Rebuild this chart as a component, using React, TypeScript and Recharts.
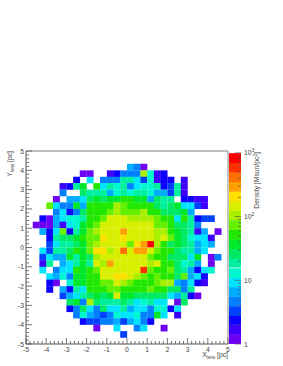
import { ReferenceLine, Scatter, ScatterChart, XAxis, YAxis } from "recharts";

const _ = null;

// bin centres in pc, 30 x 30 over [-5, 5]
const xBins = [-4.83, -4.5, -4.17, -3.83, -3.5, -3.17, -2.83, -2.5, -2.17, -1.83, -1.5, -1.17, -0.83, -0.5, -0.17, 0.17, 0.5, 0.83, 1.17, 1.5, 1.83, 2.17, 2.5, 2.83, 3.17, 3.5, 3.83, 4.17, 4.5, 4.83];
const yBins = [4.83, 4.5, 4.17, 3.83, 3.5, 3.17, 2.83, 2.5, 2.17, 1.83, 1.5, 1.17, 0.83, 0.5, 0.17, -0.17, -0.5, -0.83, -1.17, -1.5, -1.83, -2.17, -2.5, -2.83, -3.17, -3.5, -3.83, -4.17, -4.5, -4.83];

// density at the middle of each of the 20 colour contours
const contourDensity = [1.2, 1.7, 2.4, 3.3, 4.7, 6.6, 9.3, 13, 19, 26, 37, 52, 74, 105, 148, 209, 295, 417, 589, 832];
const contourColors = [
  "#6c00f4", "#3c00fa", "#0c00ff", "#0040ff", "#0080ff", "#00acff", "#00e4ff", "#00f8d0", "#00f0a0", "#00ea64",
  "#00e82c", "#20e800", "#64f000", "#a8f000", "#d8f000", "#ffe000", "#ffa000", "#ff7000", "#ff3000", "#ff0000",
];

// contour index per bin, top row first
const densityRows = [
  [_,_,_,_,_,_,_,_,_,_,_,_,_,_,_,_,_,_,_,_,_,_,_,_,_,_,_,_,_,_],
  [_,_,_,_,_,_,_,_,_,_,_,_,_,_,_,_,_,_,_,_,_,_,_,_,_,_,_,_,_,_],
  [_,_,_,_,_,_,_,_,_,_,_,_,_,_,_,5,4,0,_,_,_,_,_,_,_,_,_,_,_,_],
  [_,_,_,_,_,_,_,_,0,0,_,_,1,2,4,4,4,13,7,1,2,_,_,_,_,_,_,_,_,_],
  [_,_,_,_,_,_,_,2,_,6,_,4,4,4,8,8,6,3,7,1,2,2,_,1,_,_,_,_,_,_],
  [_,_,_,_,_,1,2,8,10,_,11,6,8,7,8,4,6,7,7,8,2,3,8,1,_,_,_,_,_,_],
  [_,_,_,_,_,4,_,_,9,8,8,8,5,7,8,7,8,8,7,5,5,3,8,1,_,_,_,_,_,_],
  [_,_,_,_,0,_,5,5,6,9,10,9,10,10,11,11,10,10,5,9,8,8,_,2,2,1,1,_,_,_],
  [_,_,_,12,6,4,4,10,5,11,11,11,11,13,12,11,11,11,11,9,8,9,10,6,6,3,1,_,_,_],
  [_,_,_,_,4,6,2,4,9,11,11,11,12,13,12,12,12,13,11,11,9,9,9,10,5,_,_,_,_,_],
  [_,_,2,0,5,6,7,7,8,11,11,12,14,14,14,13,13,13,13,12,11,11,6,11,8,2,3,3,_,_],
  [_,0,0,0,5,1,6,7,10,11,12,14,14,14,14,14,14,14,14,12,12,11,9,9,8,4,_,_,_,_],
  [_,_,5,2,6,12,2,8,10,12,13,14,14,14,16,14,14,14,14,13,13,11,10,9,8,1,5,_,0,_],
  [_,_,_,2,8,9,9,10,11,12,12,15,14,14,15,14,14,14,14,13,14,12,10,9,7,6,6,1,_,_],
  [_,_,_,3,6,8,8,9,10,12,13,14,14,14,14,12,15,16,19,13,11,9,10,9,8,5,6,5,_,_],
  [_,_,6,3,8,8,9,11,10,12,15,15,13,14,17,14,16,16,14,12,11,11,9,8,8,5,6,_,_,_],
  [_,_,3,6,5,5,10,8,10,9,13,14,14,14,14,14,14,14,12,11,11,9,9,9,6,10,_,0,4,_],
  [_,_,1,8,_,5,6,8,10,8,14,13,16,14,14,14,14,14,13,14,11,11,9,7,8,5,_,0,_,_],
  [_,_,6,_,4,6,6,11,10,11,12,14,14,14,14,14,14,18,12,11,11,12,9,8,5,2,6,7,_,_],
  [_,_,_,6,5,7,4,10,10,11,11,14,14,15,15,14,13,12,11,12,11,11,9,12,5,6,2,_,_,_],
  [_,_,_,2,0,_,7,10,10,11,11,12,12,14,13,12,11,11,11,12,13,13,5,4,6,2,1,_,_,_],
  [_,_,_,2,_,5,2,8,6,11,11,11,12,12,11,11,11,11,12,11,11,9,9,4,8,_,_,_,_,_],
  [_,_,_,_,_,3,5,6,8,9,10,9,10,14,10,10,9,9,9,9,9,6,5,8,2,0,_,_,_,_],
  [_,_,_,_,_,_,9,10,4,13,9,8,8,8,9,8,6,7,8,6,6,_,0,9,_,_,_,_,_,_],
  [_,_,_,_,_,_,2,4,9,6,4,9,6,6,8,5,6,6,4,7,7,2,6,_,_,_,_,_,_,_],
  [_,_,_,_,_,_,_,4,7,5,4,3,4,7,6,6,7,4,4,10,6,_,1,_,_,_,_,_,_,_],
  [_,_,_,_,_,_,_,_,2,3,3,4,4,5,3,5,6,4,2,_,_,_,_,_,_,_,_,_,_,_],
  [_,_,_,_,_,_,_,_,_,_,0,_,_,6,_,_,4,6,_,_,0,_,_,_,_,_,_,_,_,_],
  [_,_,_,_,_,_,_,_,_,_,_,_,_,_,3,_,_,_,_,_,_,_,_,_,_,_,_,_,_,_],
  [_,_,_,_,_,_,_,_,_,_,_,_,_,_,_,_,_,_,_,_,_,_,_,_,_,_,_,_,_,_],
];

const axisMajor = [-5, -4, -3, -2, -1, 0, 1, 2, 3, 4, 5];
const axisMinor = [
  -4.8, -4.6, -4.4, -4.2, -3.8, -3.6, -3.4, -3.2, -2.8, -2.6, -2.4, -2.2, -1.8, -1.6, -1.4, -1.2, -0.8, -0.6, -0.4, -0.2,
  0.2, 0.4, 0.6, 0.8, 1.2, 1.4, 1.6, 1.8, 2.2, 2.4, 2.6, 2.8, 3.2, 3.4, 3.6, 3.8, 4.2, 4.4, 4.6, 4.8,
];
const zDecades = [1, 10, 100, 1000];
const zMinor = [2, 3, 4, 5, 6, 7, 8, 9, 20, 30, 40, 50, 60, 70, 80, 90, 200, 300, 400, 500, 600, 700, 800, 900];

const FONT = "'Liberation Sans', Arial, sans-serif";
const TEXT = "#444";
const AXIS = "#555";
const PLOT_W = 202;
const PLOT_H = 193;
const CELL_W = PLOT_W / xBins.length;
const CELL_H = PLOT_H / yBins.length;
const BAR_H = PLOT_H / contourColors.length;

const cells = densityRows.flatMap((row, r) =>
  row.flatMap((level, c) =>
    level === null ? [] : [{ x: xBins[c], y: yBins[r], density: contourDensity[level], color: contourColors[level] }],
  ),
);
const barData = contourDensity.map((density, i) => ({ x: 0.5, density, color: contourColors[i] }));

const CellShape = ({ cx, cy, payload }: any) => (
  <rect x={cx - CELL_W / 2} y={cy - CELL_H / 2} width={CELL_W + 0.2} height={CELL_H + 0.2} fill={payload.color} />
);

const BarShape = ({ cx, cy, payload }: any) => (
  <rect x={cx - 6} y={cy - BAR_H / 2} width={12} height={BAR_H + 0.2} fill={payload.color} />
);

const XTick = ({ x, y, payload }: any) => {
  const major = axisMajor.includes(payload.value);
  return (
    <g>
      <line x1={x} x2={x} y1={y} y2={y - (major ? 6 : 3)} stroke={AXIS} strokeWidth={0.8} />
      {major && (
        <text x={x} y={y + 7.5} textAnchor="middle" fontSize={6.8} fontFamily={FONT} fill={TEXT}>
          {payload.value}
        </text>
      )}
    </g>
  );
};

const YTick = ({ x, y, payload }: any) => {
  const major = axisMajor.includes(payload.value);
  return (
    <g>
      <line x1={x} x2={x + (major ? 6 : 3)} y1={y} y2={y} stroke={AXIS} strokeWidth={0.8} />
      {major && (
        <text x={x - 2} y={y + 2.5} textAnchor="end" fontSize={6.8} fontFamily={FONT} fill={TEXT}>
          {payload.value}
        </text>
      )}
    </g>
  );
};

const ZTick = ({ x, y, payload }: any) => {
  const v = payload.value;
  const major = zDecades.includes(v);
  return (
    <g>
      <line x1={x} x2={x - (major ? 6 : 3)} y1={y} y2={y} stroke={AXIS} strokeWidth={0.7} />
      {major && (
        <text x={x + 3} y={y + 2.5} fontSize={6.8} fontFamily={FONT} fill={TEXT}>
          {v === 1 ? "1" : "10"}
          {v === 100 && <tspan dy={-3} fontSize={5}>2</tspan>}
          {v === 1000 && <tspan dy={-3} fontSize={5}>3</tspan>}
        </text>
      )}
    </g>
  );
};

export default function App() {
  return (
    <div style={{ position: "absolute", left: 0, top: 0, width: 283, height: 366, background: "#fff" }}>
      <div style={{ position: "absolute", left: 0, top: 0 }}>
        <ScatterChart width={283} height={366} margin={{ top: 151, right: 55, bottom: 0, left: 0 }}>
          <XAxis
            type="number"
            dataKey="x"
            domain={[-5, 5]}
            ticks={[...axisMajor, ...axisMinor]}
            interval={0}
            height={22}
            tickSize={0}
            tickMargin={0}
            tick={XTick}
            stroke={AXIS}
          />
          <YAxis
            type="number"
            dataKey="y"
            domain={[-5, 5]}
            ticks={[...axisMajor, ...axisMinor]}
            interval={0}
            width={26}
            tickSize={0}
            tickMargin={0}
            tick={YTick}
            stroke={AXIS}
          />
          <Scatter data={cells} shape={CellShape} isAnimationActive={false} />
          <ReferenceLine y={5} stroke="#aaa" strokeWidth={1.4} />
          <ReferenceLine x={5} stroke="#aaa" strokeWidth={1.4} />
          <text x={228} y={357} textAnchor="end" fontSize={6.8} fontFamily={FONT} fill={TEXT}>
            X<tspan dy={1.5} fontSize={4.5}>lens</tspan>
            <tspan dy={-1.5}> [pc]</tspan>
          </text>
          <text transform="translate(12,151) rotate(-90)" textAnchor="end" fontSize={6.8} fontFamily={FONT} fill={TEXT}>
            Y<tspan dy={1.5} fontSize={4.5}>lens</tspan>
            <tspan dy={-1.5}> [pc]</tspan>
          </text>
        </ScatterChart>
      </div>
      <div style={{ position: "absolute", left: 229, top: 0 }}>
        <ScatterChart width={54} height={366} margin={{ top: 151, right: 0, bottom: 22, left: 0 }}>
          <XAxis type="number" dataKey="x" domain={[0, 1]} hide />
          <YAxis
            type="number"
            dataKey="density"
            scale="log"
            domain={[1, 1070]}
            allowDataOverflow
            orientation="right"
            ticks={[...zDecades, ...zMinor]}
            interval={0}
            width={42}
            tickSize={0}
            tickMargin={0}
            tick={ZTick}
            axisLine={false}
          />
          <Scatter data={barData} shape={BarShape} isAnimationActive={false} />
          <text transform="translate(30,152) rotate(-90)" textAnchor="end" fontSize={6.8} fontFamily={FONT} fill={TEXT}>
            Density [Msun/pc<tspan dy={-2.5} fontSize={4.8}>2</tspan>
            <tspan dy={2.5}>]</tspan>
          </text>
        </ScatterChart>
      </div>
    </div>
  );
}
